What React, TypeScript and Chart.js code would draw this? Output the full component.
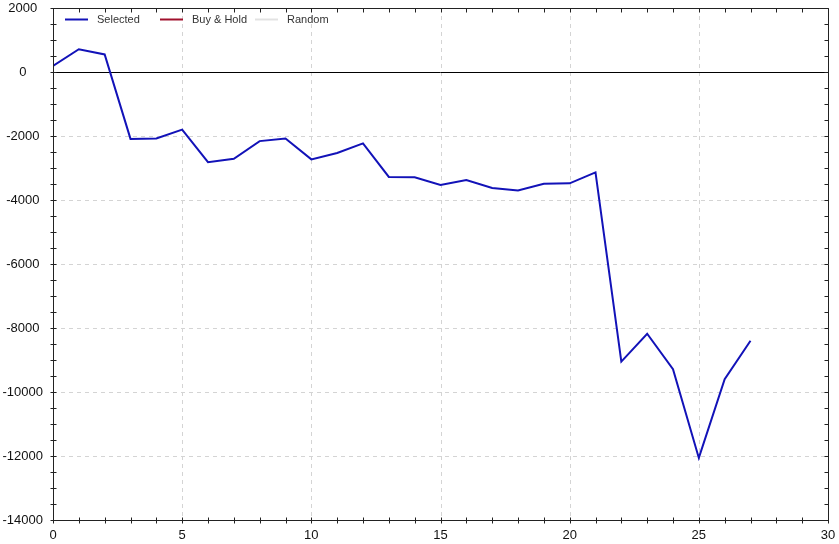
import { useEffect, useRef } from 'react';
import { Chart, registerables } from 'chart.js';

Chart.register(...registerables);

const periods = [0, 1, 2, 3, 4, 5, 6, 7, 8, 9, 10, 11, 12, 13, 14, 15, 16, 17, 18, 19, 20, 21, 22, 23, 24, 25, 26, 27];
const selectedValues = [190, 710, 550, -2090, -2080, -1800, -2820, -2710, -2160, -2080, -2730, -2530, -2230, -3280, -3290, -3530, -3375, -3625, -3700, -3490, -3480, -3135, -9050, -8180, -9290, -12060, -9600, -8400];
const buyHoldValues: number[] = [];
const randomValues: number[] = [];
const xTickValues = [0, 5, 10, 15, 20, 25, 30];
const yTickValues = [2000, 0, -2000, -4000, -6000, -8000, -10000, -12000, -14000];
const seriesLabels = ['Selected', 'Buy & Hold', 'Random'];
const seriesColors = ['#1212b8', '#a0102c', '#e2e2e2'];

const X_MIN = 0;
const X_MAX = 30;
const Y_MIN = -14000;
const Y_MAX = 2000;
const X_MINOR = 1;
const Y_MINOR = 500;

const FONT = '"Liberation Sans", Arial, sans-serif';

const framePlugin = {
  id: 'frame',
  beforeDatasetsDraw(chart: any) {
    const { ctx, chartArea: a, scales } = chart;
    const x = scales.x;
    const y = scales.y;
    ctx.save();
    ctx.lineWidth = 1;
    ctx.strokeStyle = '#d4d4d4';
    ctx.setLineDash([4, 4]);
    for (const v of xTickValues) {
      if (v <= X_MIN || v >= X_MAX) continue;
      const px = Math.round(x.getPixelForValue(v)) + 0.5;
      ctx.beginPath();
      ctx.moveTo(px, a.top);
      ctx.lineTo(px, a.bottom);
      ctx.stroke();
    }
    for (const v of yTickValues) {
      if (v <= Y_MIN || v >= Y_MAX || v === 0) continue;
      const py = Math.round(y.getPixelForValue(v)) + 0.5;
      ctx.beginPath();
      ctx.moveTo(a.left, py);
      ctx.lineTo(a.right, py);
      ctx.stroke();
    }
    ctx.setLineDash([]);
    ctx.strokeStyle = '#000';
    const zy = Math.round(y.getPixelForValue(0)) + 0.5;
    ctx.beginPath();
    ctx.moveTo(a.left, zy);
    ctx.lineTo(a.right, zy);
    ctx.stroke();
    ctx.restore();
  },
  afterDraw(chart: any) {
    const { ctx, chartArea: a, scales } = chart;
    const x = scales.x;
    const y = scales.y;
    ctx.save();
    ctx.lineWidth = 1;
    ctx.strokeStyle = '#222';
    const L = Math.round(a.left) + 0.5;
    const R = Math.round(a.right) + 0.5;
    const T = Math.round(a.top) + 0.5;
    const B = Math.round(a.bottom) + 0.5;
    ctx.beginPath();
    ctx.moveTo(L, T);
    ctx.lineTo(R, T);
    ctx.lineTo(R, B);
    ctx.lineTo(L, B);
    ctx.closePath();
    ctx.stroke();
    // tick marks
    ctx.beginPath();
    for (let v = X_MIN; v <= X_MAX; v += X_MINOR) {
      const px = Math.round(x.getPixelForValue(v)) + 0.5;
      ctx.moveTo(px, B - 3);
      ctx.lineTo(px, B + 3);
      ctx.moveTo(px, T);
      ctx.lineTo(px, T + 4);
    }
    for (let v = Y_MIN; v <= Y_MAX; v += Y_MINOR) {
      const py = Math.round(y.getPixelForValue(v)) + 0.5;
      ctx.moveTo(L - 3, py);
      ctx.lineTo(L + 3, py);
      ctx.moveTo(R, py);
      ctx.lineTo(R - 4, py);
    }
    ctx.stroke();

    // legend inside plot
    const ly = 19.5;
    const startX = 65;
    const step = 95;
    ctx.font = `11px ${FONT}`;
    ctx.textBaseline = 'middle';
    ctx.textAlign = 'left';
    chart.data.datasets.forEach((ds: any, i: number) => {
      const lx = startX + i * step;
      ctx.strokeStyle = ds.borderColor;
      ctx.lineWidth = 2;
      ctx.beginPath();
      ctx.moveTo(lx, ly);
      ctx.lineTo(lx + 23, ly);
      ctx.stroke();
      ctx.fillStyle = '#333';
      ctx.fillText(ds.label, lx + 32, ly);
    });
    ctx.restore();
  },
};

export default function App() {
  const canvasRef = useRef<HTMLCanvasElement | null>(null);

  useEffect(() => {
    const canvas = canvasRef.current;
    if (!canvas) return;
    const mk = (vals: number[]) => vals.map((v, i) => ({ x: periods[i], y: v }));
    const chart = new Chart(canvas, {
      type: 'line',
      data: {
        datasets: [
          {
            label: seriesLabels[0],
            data: mk(selectedValues),
            borderColor: seriesColors[0],
            backgroundColor: seriesColors[0],
            borderWidth: 2,
            pointRadius: 0,
            tension: 0,
            fill: false,
          },
          {
            label: seriesLabels[1],
            data: mk(buyHoldValues),
            borderColor: seriesColors[1],
            backgroundColor: seriesColors[1],
            borderWidth: 2,
            pointRadius: 0,
            fill: false,
          },
          {
            label: seriesLabels[2],
            data: mk(randomValues),
            borderColor: seriesColors[2],
            backgroundColor: seriesColors[2],
            borderWidth: 2,
            pointRadius: 0,
            fill: false,
          },
        ],
      },
      options: {
        animation: false,
        responsive: false,
        maintainAspectRatio: false,
        layout: { padding: { left: 0, right: 11, top: 8, bottom: 0 } },
        plugins: {
          legend: { display: false },
          tooltip: { enabled: false },
        },
        scales: {
          x: {
            type: 'linear',
            min: X_MIN,
            max: X_MAX,
            grid: { display: false, drawTicks: false },
            border: { display: false },
            ticks: {
              stepSize: 5,
              padding: 8,
              maxRotation: 0,
              autoSkip: false,
              color: '#111',
              font: { family: FONT, size: 13 },
            },
            afterFit: (s: any) => {
              s.height = 24;
              s.paddingLeft = 0;
              s.paddingRight = 0;
            },
          },
          y: {
            type: 'linear',
            min: Y_MIN,
            max: Y_MAX,
            grid: { display: false, drawTicks: false },
            border: { display: false },
            ticks: {
              stepSize: 2000,
              padding: 10,
              crossAlign: 'center',
              autoSkip: false,
              color: '#111',
              font: { family: FONT, size: 13 },
              callback: (v: any) => String(v),
            },
            afterFit: (s: any) => {
              s.width = 53;
              s.paddingTop = 0;
              s.paddingBottom = 0;
            },
          },
        },
      },
      plugins: [framePlugin],
    });
    return () => chart.destroy();
  }, []);

  return (
    <div style={{ position: 'absolute', left: 0, top: 0, width: 839, height: 544, background: '#fff' }}>
      <canvas ref={canvasRef} width={839} height={544} style={{ display: 'block' }} />
    </div>
  );
}
